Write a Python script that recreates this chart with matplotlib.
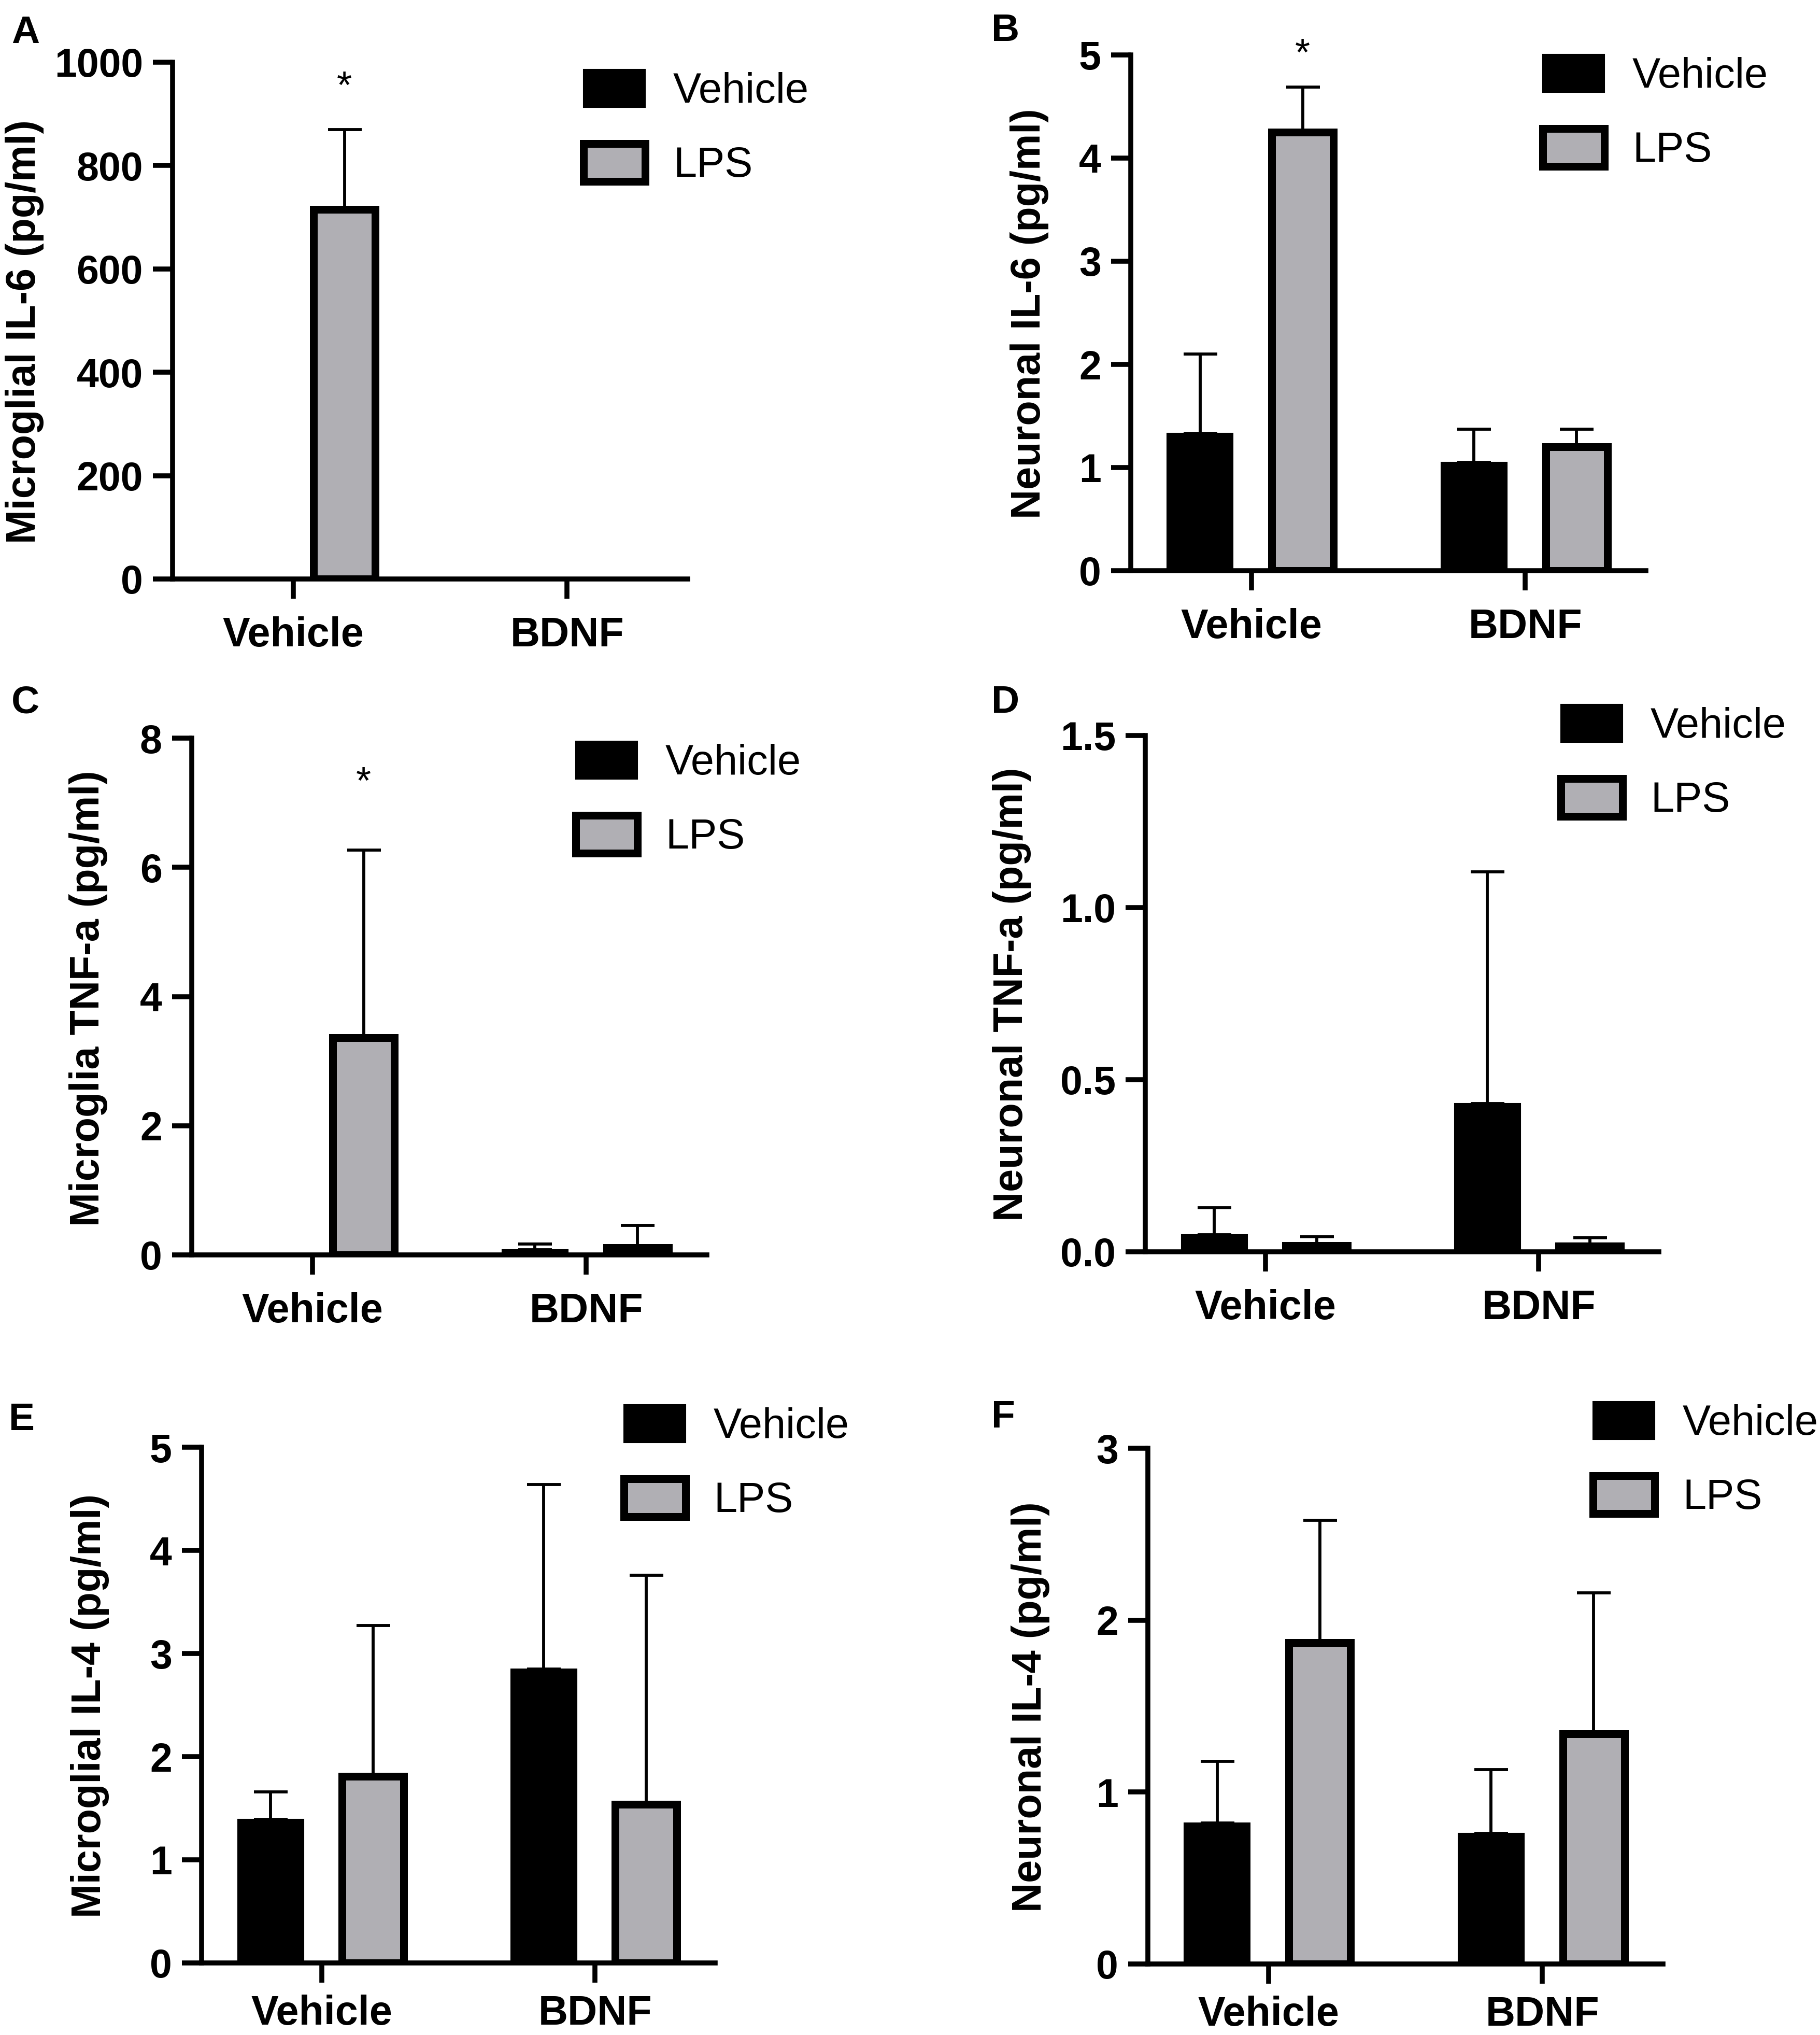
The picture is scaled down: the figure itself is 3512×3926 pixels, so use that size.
import numpy as np
import matplotlib
matplotlib.use('Agg')
import matplotlib.pyplot as plt
from matplotlib.patches import Patch

# ── Data (mean and top of the SD bar; nan = not shown) ──────────────
groups = ['Vehicle', 'BDNF']
series = ['Vehicle', 'LPS']

a_vehicle     = [np.nan, np.nan]
a_vehicle_top = [np.nan, np.nan]
a_lps         = [715, np.nan]
a_lps_top     = [870, np.nan]

b_vehicle     = [1.33, 1.05]
b_vehicle_top = [2.10, 1.37]
b_lps         = [4.25, 1.20]
b_lps_top     = [4.69, 1.37]

c_vehicle     = [np.nan, 0.08]
c_vehicle_top = [np.nan, 0.17]
c_lps         = [3.36, 0.11]
c_lps_top     = [6.27, 0.46]

d_vehicle     = [0.05, 0.43]
d_vehicle_top = [0.128, 1.104]
d_lps         = [0.018, 0.016]
d_lps_top     = [0.044, 0.041]

e_vehicle     = [1.39, 2.85]
e_vehicle_top = [1.66, 4.64]
e_lps         = [1.81, 1.54]
e_lps_top     = [3.27, 3.76]

f_vehicle     = [0.82, 0.76]
f_vehicle_top = [1.18, 1.13]
f_lps         = [1.87, 1.34]
f_lps_top     = [2.58, 2.16]

ylabels = ['Microglial IL-6 (pg/ml)', 'Neuronal IL-6 (pg/ml)',
           'Microglia TNF-a (pg/ml)', 'Neuronal TNF-a (pg/ml)',
           'Microglial IL-4 (pg/ml)', 'Neuronal IL-4 (pg/ml)']
yticks = [[0, 200, 400, 600, 800, 1000], [0, 1, 2, 3, 4, 5],
          [0, 2, 4, 6, 8], [0.0, 0.5, 1.0, 1.5],
          [0, 1, 2, 3, 4, 5], [0, 1, 2, 3]]
ytick_fmt = ['{:.0f}', '{:.0f}', '{:.0f}', '{:.1f}', '{:.0f}', '{:.0f}']
star_y = [950, 5.0, 7.3, None, None, None]   # '*' above the LPS bar
letters = ['A', 'B', 'C', 'D', 'E', 'F']

# ── Layout (pixel coordinates on the 3512 x 3926 canvas) ─────────────
W, H = 3512, 3926
# left, right, top, bottom of each plot area
boxes = [(333, 1327, 120, 1117), (2182, 3176, 106, 1101),
         (370, 1364, 1424, 2421), (2210, 3201, 1419, 2415),
         (389, 1380, 2792, 3787), (2215, 3209, 2794, 3789)]
ylabel_xy = [(48, 640), (1986, 605), (171, 1926),
             (1952, 1918), (174, 3291), (1988, 3293)]
legend_xy = [(1126, 137), (2977, 108), (1111, 1433),
             (3012, 1362), (1204, 2713), (3074, 2707)]
letter_xy = [(22, 83), (1913, 79), (22, 1375),
             (1913, 1375), (17, 2759), (1913, 2754)]
xpad = [8, 8, 8, 8, 5.5, 5.5]

data = [(a_vehicle, a_vehicle_top, a_lps, a_lps_top),
        (b_vehicle, b_vehicle_top, b_lps, b_lps_top),
        (c_vehicle, c_vehicle_top, c_lps, c_lps_top),
        (d_vehicle, d_vehicle_top, d_lps, d_lps_top),
        (e_vehicle, e_vehicle_top, e_lps, e_lps_top),
        (f_vehicle, f_vehicle_top, f_lps, f_lps_top)]

GREY = '#b0afb4'
LW = 2.3

plt.rcParams['font.family'] = ['Liberation Sans', 'DejaVu Sans']

fig = plt.figure(figsize=(W / 300, H / 300), dpi=300)
x = np.arange(len(groups))

for i, (veh, veh_top, lps, lps_top) in enumerate(data):
    L, R, T, B = boxes[i]
    ax = fig.add_axes([L / W, 1 - B / H, (R - L) / W, (B - T) / H])

    veh = np.array(veh, dtype=float)
    lps = np.array(lps, dtype=float)
    veh_top = np.array(veh_top, dtype=float)
    lps_top = np.array(lps_top, dtype=float)

    ax.bar(x - 0.187, veh, width=0.24, color='black', edgecolor='black',
           linewidth=0.5, zorder=3)
    ax.bar(x + 0.187, lps, width=0.225, color=GREY, edgecolor='black',
           linewidth=3.6, zorder=3)

    for xs, m, t in [(x - 0.187, veh, veh_top), (x + 0.187, lps, lps_top)]:
        ax.errorbar(xs, m, yerr=[np.zeros_like(m), t - m], fmt='none',
                    ecolor='black', elinewidth=1.4, capsize=7.8,
                    capthick=1.4, zorder=2)

    if star_y[i] is not None:
        ax.text(0 + 0.187, star_y[i], '*', ha='center', va='center',
                fontsize=18, clip_on=False)

    ax.set_xlim(-0.44, 1.44)
    ax.set_ylim(yticks[i][0], yticks[i][-1])
    ax.set_xticks(x)
    ax.set_xticklabels(groups, fontsize=19, fontweight='bold')
    ax.set_yticks(yticks[i])
    ax.set_yticklabels([ytick_fmt[i].format(v) for v in yticks[i]],
                       fontsize=18.5, fontweight='bold')
    for s in ['top', 'right']:
        ax.spines[s].set_visible(False)
    for s in ['left', 'bottom']:
        ax.spines[s].set_linewidth(LW)
    ax.tick_params(axis='both', width=LW, length=9.2, direction='out')
    ax.tick_params(axis='x', pad=xpad[i])
    ax.tick_params(axis='y', pad=4.5)

    cx, cy = ylabel_xy[i]
    ax.set_ylabel(ylabels[i], fontsize=19, fontweight='bold', va='center')
    ax.yaxis.set_label_coords((cx - L) / (R - L), (B - cy) / (B - T))

    handles = [Patch(facecolor='black', edgecolor='black', linewidth=0.5),
               Patch(facecolor=GREY, edgecolor='black', linewidth=3.6)]
    lx, ly = legend_xy[i]
    ax.legend(handles, series, loc='upper left', frameon=False,
              bbox_to_anchor=(lx / W, 1 - (ly - 3) / H),
              bbox_transform=fig.transFigure, fontsize=19.5,
              borderpad=0, borderaxespad=0, handlelength=1.47,
              handleheight=1.0, handletextpad=0.66, labelspacing=0.76)

    tx, ty = letter_xy[i]
    fig.text(tx / W, 1 - ty / H, letters[i], fontsize=18, fontweight='bold',
             ha='left', va='baseline')

fig.savefig('out.png', dpi=300)
